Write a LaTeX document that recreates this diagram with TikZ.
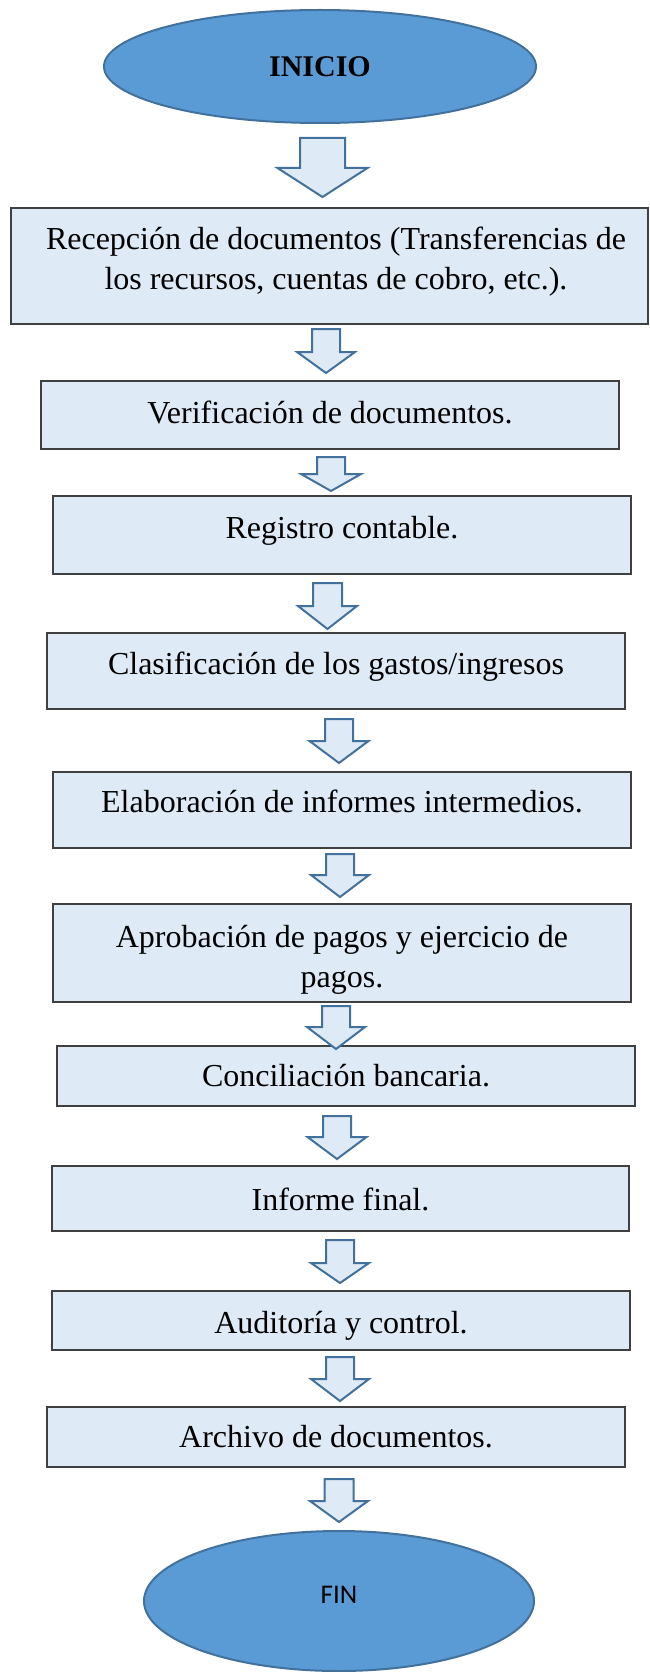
\documentclass[tikz,border=0pt]{standalone}
\usepackage{fontspec}
\setmainfont{Liberation Serif}
\newfontfamily\calibrifont{Carlito}
\usetikzlibrary{shapes.geometric}
\definecolor{ellfill}{HTML}{5B9BD5}
\definecolor{ellline}{HTML}{41719C}
\definecolor{boxfill}{HTML}{DEEAF6}
\definecolor{boxline}{HTML}{404040}
\definecolor{arrfill}{HTML}{DEEAF6}
\definecolor{arrline}{HTML}{41719C}
% #1 = horizontal shift, #2 = vertical lift, #3 = lines
\newcommand\tx[3]{\raisebox{#2pt}[\height][\depth]{\hspace*{#1pt}\begin{tabular}{@{}c@{}}#3\end{tabular}\hspace*{-#1pt}}}
% block arrow: centre x, top y, head y, tip y, half shaft, half head
\newcommand\barrow[6]{\draw[blockarrow] (#1-#5,#2) -- (#1+#5,#2) -- (#1+#5,#3) -- (#1+#6,#3) -- (#1,#4) -- (#1-#6,#3) -- (#1-#5,#3) -- cycle;}
\tikzset{
  terminal/.style={ellipse, draw=ellline, fill=ellfill, line width=2pt, inner sep=0pt},
  stepbox/.style={rectangle, draw=boxline, fill=boxfill, line width=1.8pt, inner sep=0pt,
    minimum width=578pt, font=\fontsize{32}{40}\selectfont},
  blockarrow/.style={draw=arrline, fill=arrfill, line width=2pt, line join=miter}
}
\begin{document}
\begin{tikzpicture}[x=1pt,y=-1pt]
\useasboundingbox (0,0) rectangle (649,1672);

\node[terminal, minimum width=432pt, minimum height=113pt,
      font=\fontsize{30}{36}\selectfont\bfseries] (inicio) at (320,66.5) {INICIO};

\node[stepbox, minimum width=637pt, minimum height=116pt] (b1) at (329.5,266)
  {\tx{6.5}{4.4}{Recepción de documentos (Transferencias de\\los recursos, cuentas de cobro, etc.).}};
\node[stepbox, minimum height=68pt] (b2) at (330,415) {\tx{0}{-0.6}{Verificación de documentos.}};
\node[stepbox, minimum height=78pt] (b3) at (342,535) {\tx{0}{4.4}{Registro contable.}};
\node[stepbox, minimum height=76pt] (b4) at (336,671) {\tx{0}{4.4}{Clasificación de los gastos/ingresos}};
\node[stepbox, minimum height=76pt] (b5) at (342,810) {\tx{0}{5.4}{Elaboración de informes intermedios.}};
\node[stepbox, minimum height=98pt] (b6) at (342,953)
  {\tx{0}{-6.6}{Aprobación de pagos y ejercicio de\\pagos.}};
\node[stepbox, minimum height=60pt] (b7) at (346,1076) {\tx{0}{-2.6}{Conciliación bancaria.}};
\node[stepbox, minimum width=577pt, minimum height=65pt] (b8) at (340.5,1198.5) {\tx{0}{-4.1}{Informe final.}};
\node[stepbox, minimum height=59pt] (b9) at (341,1320.5) {\tx{0}{-5.1}{Auditoría y control.}};
\node[stepbox, minimum height=60pt] (b10) at (336,1437) {\tx{0}{-2.6}{Archivo de documentos.}};

\node[terminal, minimum width=390pt, minimum height=140pt,
      font=\fontsize{27}{32}\calibrifont] (fin) at (339,1601) {\raisebox{6pt}[\height][\depth]{FIN}};

% block arrows between the steps
\barrow{322.5}{138}{168}{197}{22.5}{45}
\barrow{326}{329}{352}{373}{14}{29}
\barrow{331}{457}{474}{491}{14}{30}
\barrow{327.5}{583}{606}{629}{14.5}{29.5}
\barrow{339}{719}{741}{763}{14}{29.5}
\barrow{340}{854}{875}{897}{14}{29}
\barrow{336}{1006}{1027}{1049}{14}{29}
\barrow{337}{1116}{1137}{1159}{14}{29.5}
\barrow{340}{1240}{1263}{1283}{14}{29}
\barrow{340}{1357}{1379}{1401}{14}{29}
\barrow{339}{1479}{1501}{1522}{14.5}{29}
\end{tikzpicture}
\end{document}
